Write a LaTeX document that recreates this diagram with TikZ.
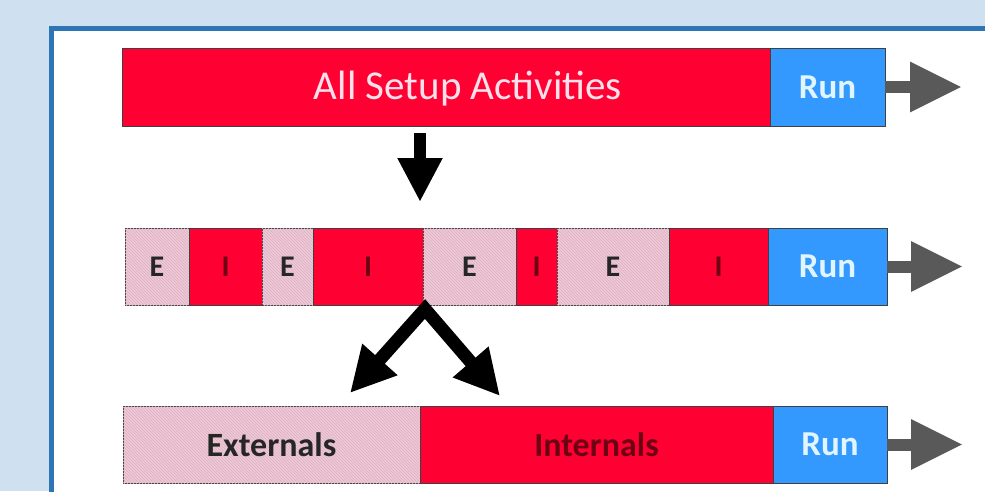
\documentclass[tikz,border=0pt]{standalone}
\usepackage{fontspec}
\setmainfont{Carlito}
\usetikzlibrary{patterns,arrows.meta}
\definecolor{bgblue}{RGB}{207,224,241}
\definecolor{frameblue}{RGB}{46,117,182}
\definecolor{setred}{RGB}{255,0,51}
\definecolor{runblue}{RGB}{51,153,255}
\definecolor{epink}{RGB}{238,200,214}
\definecolor{ehatch}{RGB}{222,178,192}
\definecolor{darkred}{RGB}{110,0,20}
\definecolor{arrgray}{RGB}{89,89,89}
\definecolor{runtext}{RGB}{225,245,255}
\definecolor{setuptext}{RGB}{252,225,235}
\tikzset{
  seg/.style={draw=black!75, line width=1pt, inner sep=0pt, anchor=north west, minimum height=77pt, outer sep=0pt},
  redseg/.style={seg, fill=setred},
  eseg/.style={seg, fill=epink, postaction={pattern=north west lines, pattern color=ehatch}},
  runseg/.style={seg, fill=runblue, text=runtext, font=\fontsize{35}{35}\selectfont\bfseries},
  eletter/.style={font=\fontsize{30}{30}\selectfont\bfseries, text=black!85},
  iletter/.style={font=\fontsize{30}{30}\selectfont\bfseries, text=darkred},
  grayarrow/.style={draw=arrgray, line width=12pt, -{Triangle[length=52pt,width=47pt]}},
  blackarrow/.style={draw=black, line width=12pt, -{Triangle[length=44pt,width=42pt]}},
  forkarrow/.style={draw=black, line width=13pt, line join=miter, {Triangle[length=45pt,width=44pt]}-{Triangle[length=45pt,width=44pt]}}
}
\begin{document}
\begin{tikzpicture}[x=1pt,y=-1pt]
\useasboundingbox (0,0) rectangle (985,491);
\clip (0,0) rectangle (985,491);
\fill[bgblue] (0,0) rectangle (985,491);
\draw[frameblue, line width=5pt, fill=white] (51.5,28.5) rectangle (1010,520);

% Row 1
\node[redseg, minimum width=648pt, minimum height=78pt] (setup) at (122,48) {};
\node[text=setuptext, font=\fontsize{41}{41}\selectfont, inner sep=0pt] (setuplbl) at ([xshift=22pt,yshift=-2pt]setup.center) {All Setup Activities};
\node[runseg, minimum width=115pt, minimum height=78pt] (run1) at (770,48) {Run};
\draw[grayarrow] (run1.east) -- ++(77,0) coordinate (end1);

% Row 2
\node[eseg, eletter, minimum width=64pt] (e1) at (125,228) {E};
\node[redseg, iletter, minimum width=73pt] (i1) at (189,228) {I};
\node[eseg, eletter, minimum width=51pt] (e2) at (262,228) {E};
\node[redseg, iletter, minimum width=110pt] (i2) at (313,228) {I};
\node[eseg, eletter, minimum width=93pt] (e3) at (423,228) {E};
\node[redseg, iletter, minimum width=41pt] (i3) at (516,228) {I};
\node[eseg, eletter, minimum width=112pt] (e4) at (557,228) {E};
\node[redseg, iletter, minimum width=99pt] (i4) at (669,228) {I};
\node[runseg, minimum width=119pt] (run2) at (768,228) {Run};
\draw[grayarrow] (run2.east) -- ++(76,0) coordinate (end2);

% Row 3
\node[eseg, minimum width=297pt, font=\fontsize{34}{34}\selectfont\bfseries, text=black!85] (ext) at (123,406) {Externals};
\node[redseg, minimum width=353pt, font=\fontsize{34}{34}\selectfont\bfseries, text=darkred] (int) at (420,406) {Internals};
\node[runseg, minimum width=114pt] (run3) at (773,406) {Run};
\draw[grayarrow] (run3.east) -- ++(76,0) coordinate (end3);

% Down arrow
\coordinate (dstart) at (420,133);
\coordinate (dend) at (420,202);
\draw[blackarrow] (dstart) -- (dend);

% Fork arrow
\coordinate (apex) at (425,309);
\coordinate (ltip) at (350,393);
\coordinate (rtip) at (500,396);
\draw[forkarrow] (ltip) -- (apex) -- (rtip);
\end{tikzpicture}
\end{document}
